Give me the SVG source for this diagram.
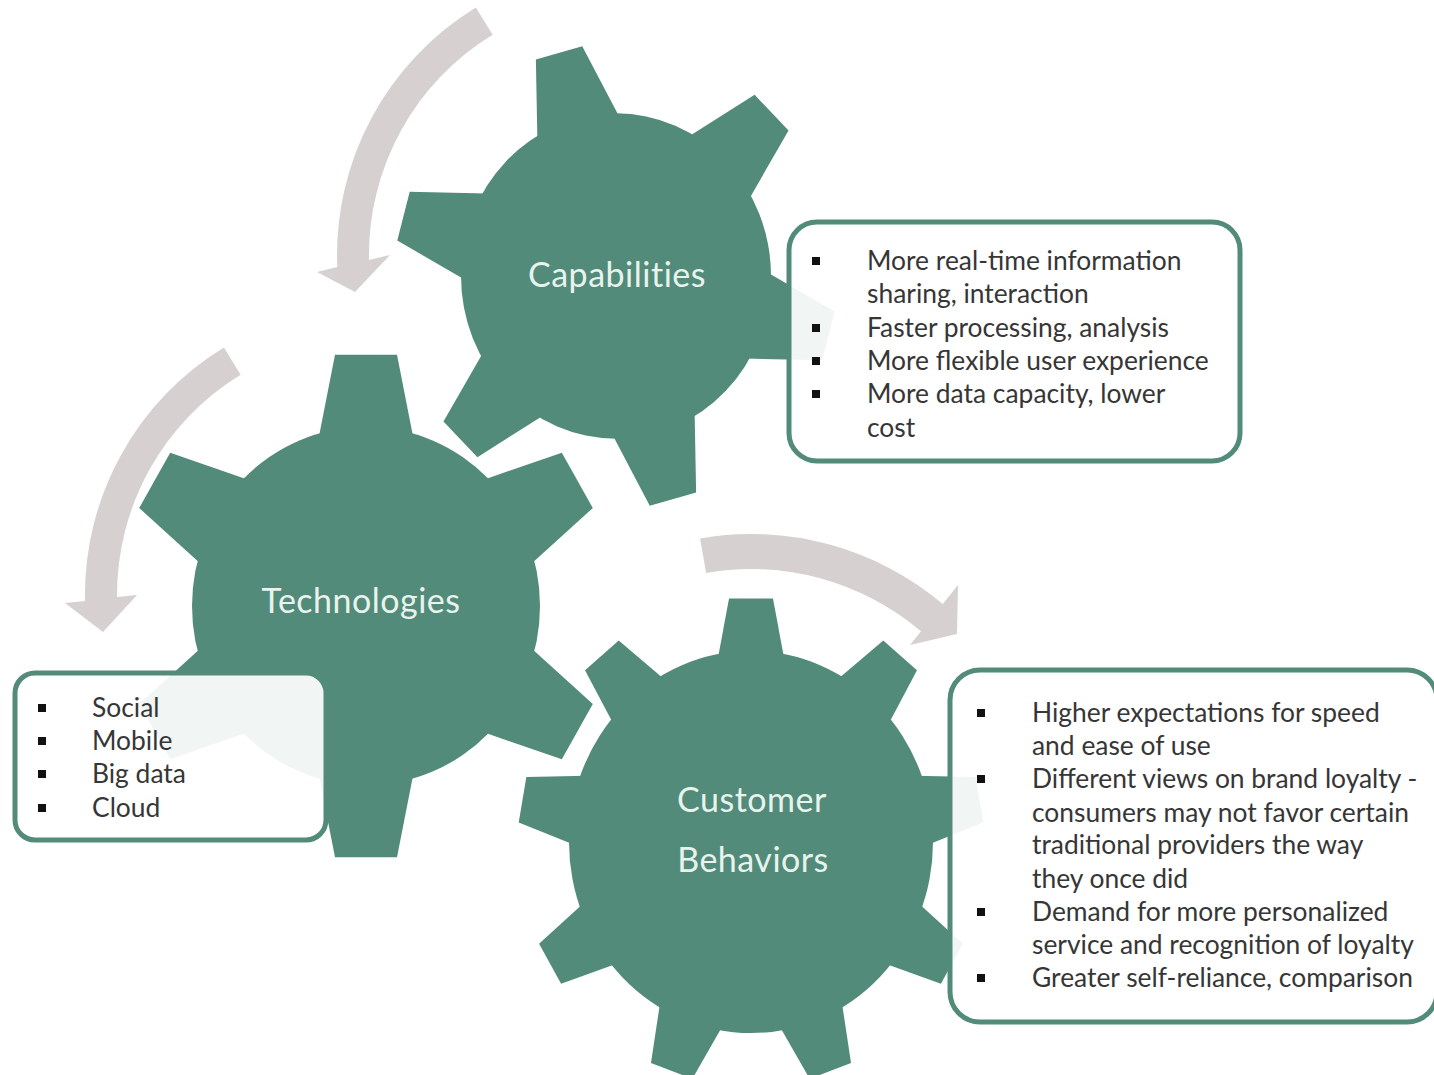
<svg xmlns="http://www.w3.org/2000/svg" xmlns:xlink="http://www.w3.org/1999/xlink" width="1434" height="1075" viewBox="0 0 1434 1075">
<style>
.gear{fill:#528b79}
.arrow{fill:#d6d0d1}
.label{font-family:Lato,"Liberation Sans",sans-serif;font-size:34px;fill:#e8f3ee;text-anchor:middle;letter-spacing:0.5px}
.box{fill:#ffffff;fill-opacity:0.92;stroke:#528b79;stroke-width:5}
.item{font-family:Lato,"Liberation Sans",sans-serif;font-size:26.4px;fill:#363636}
.bullet{fill:#111111}
</style>
<defs>
<polygon id="t1" points="-45,-135 -24,-220 24,-220 45,-135"/>
<polygon id="t2" points="-50,-150 -31,-244 31,-244 50,-150"/>
<polygon id="t3" points="-36,-160 -22,-232 22,-232 36,-160"/>
</defs>
<rect width="1434" height="1075" fill="#ffffff"/>

<g id="connectors">
<path class="arrow" d="M 475.9,7.5 A 290 290 0 0 0 337.3,267.1 L 317,272 L 355,292 L 390,255 L 369,260 A 258 258 0 0 1 492.6,34.8 Z"/>
<path class="arrow" d="M 223.9,347.5 A 290 290 0 0 0 85,601 L 65,603 L 103,632 L 137,595 L 117,597 A 258 258 0 0 1 240.6,374.8 Z"/>
<path class="arrow" d="M 700.1,538.4 A 298 298 0 0 1 942.8,604 L 958,585 L 957,634 L 910,645 L 921,631.3 A 263 263 0 0 0 706.1,572.9 Z"/>
</g>

<g id="node-capabilities">
<g class="gear" transform="translate(616,276) scale(1,1.05)">
<circle r="155"/>
<use xlink:href="#t1" href="#t1" transform="rotate(-15)"/>
<use xlink:href="#t1" href="#t1" transform="rotate(45)"/>
<use xlink:href="#t1" href="#t1" transform="rotate(105)"/>
<use xlink:href="#t1" href="#t1" transform="rotate(165)"/>
<use xlink:href="#t1" href="#t1" transform="rotate(225)"/>
<use xlink:href="#t1" href="#t1" transform="rotate(285)"/>
</g>
<text class="label" x="617" y="287">Capabilities</text>
</g>

<g id="node-technologies">
<g class="gear" transform="translate(366,606) scale(1,1.03)">
<circle r="174"/>
<use xlink:href="#t2" href="#t2" transform="rotate(0)"/>
<use xlink:href="#t2" href="#t2" transform="rotate(60)"/>
<use xlink:href="#t2" href="#t2" transform="rotate(120)"/>
<use xlink:href="#t2" href="#t2" transform="rotate(180)"/>
<use xlink:href="#t2" href="#t2" transform="rotate(240)"/>
<use xlink:href="#t2" href="#t2" transform="rotate(300)"/>
</g>
<text class="label" x="361" y="613">Technologies</text>
</g>

<g id="node-customer-behaviors">
<g class="gear" transform="translate(751,842) scale(1,1.05)">
<circle r="182"/>
<use xlink:href="#t3" href="#t3" transform="rotate(0)"/>
<use xlink:href="#t3" href="#t3" transform="rotate(40)"/>
<use xlink:href="#t3" href="#t3" transform="rotate(80)"/>
<use xlink:href="#t3" href="#t3" transform="rotate(120)"/>
<use xlink:href="#t3" href="#t3" transform="rotate(160)"/>
<use xlink:href="#t3" href="#t3" transform="rotate(200)"/>
<use xlink:href="#t3" href="#t3" transform="rotate(240)"/>
<use xlink:href="#t3" href="#t3" transform="rotate(280)"/>
<use xlink:href="#t3" href="#t3" transform="rotate(320)"/>
</g>
<text class="label" x="752" y="812">Customer</text>
<text class="label" x="753" y="872">Behaviors</text>
</g>

<g id="box-capabilities">
<rect class="box" x="789" y="222" width="451" height="239" rx="28"/>
<rect class="bullet" x="812" y="257" width="8" height="8"/>
<rect class="bullet" x="812" y="324" width="8" height="8"/>
<rect class="bullet" x="812" y="357" width="8" height="8"/>
<rect class="bullet" x="812" y="390" width="8" height="8"/>
<text class="item" x="867" y="270">More real-time information</text>
<text class="item" x="867" y="303">sharing, interaction</text>
<text class="item" x="867" y="337">Faster processing, analysis</text>
<text class="item" x="867" y="370">More flexible user experience</text>
<text class="item" x="867" y="403">More data capacity, lower</text>
<text class="item" x="867" y="437">cost</text>
</g>

<g id="box-technologies">
<rect class="box" x="15" y="673" width="311" height="167" rx="20"/>
<rect class="bullet" x="38" y="704" width="8" height="8"/>
<rect class="bullet" x="38" y="737" width="8" height="8"/>
<rect class="bullet" x="38" y="770" width="8" height="8"/>
<rect class="bullet" x="38" y="804" width="8" height="8"/>
<text class="item" x="92" y="717">Social</text>
<text class="item" x="92" y="750">Mobile</text>
<text class="item" x="92" y="783">Big data</text>
<text class="item" x="92" y="817">Cloud</text>
</g>

<g id="box-customer-behaviors">
<rect class="box" x="950" y="670" width="487" height="352" rx="30"/>
<rect class="bullet" x="977" y="709" width="8" height="8"/>
<rect class="bullet" x="977" y="775" width="8" height="8"/>
<rect class="bullet" x="977" y="908" width="8" height="8"/>
<rect class="bullet" x="977" y="974" width="8" height="8"/>
<text class="item" x="1032" y="722">Higher expectations for speed</text>
<text class="item" x="1032" y="755">and ease of use</text>
<text class="item" x="1032" y="788">Different views on brand loyalty -</text>
<text class="item" x="1032" y="822">consumers may not favor certain</text>
<text class="item" x="1032" y="854">traditional providers the way</text>
<text class="item" x="1032" y="888">they once did</text>
<text class="item" x="1032" y="921">Demand for more personalized</text>
<text class="item" x="1032" y="954">service and recognition of loyalty</text>
<text class="item" x="1032" y="987">Greater self-reliance, comparison</text>
</g>
</svg>
